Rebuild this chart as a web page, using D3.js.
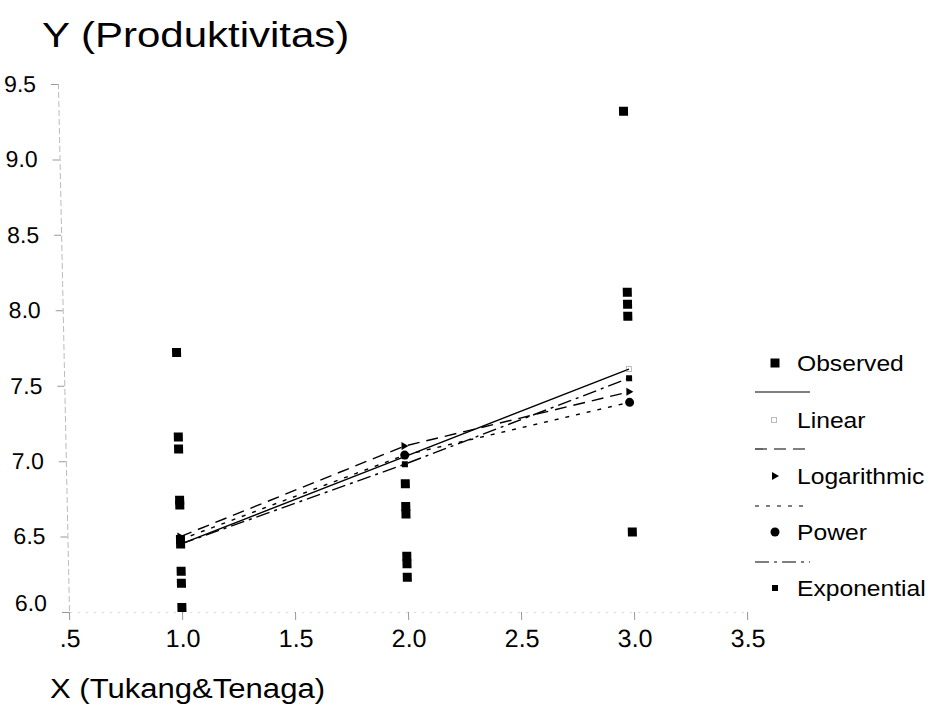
<!DOCTYPE html>
<html>
<head>
<meta charset="utf-8">
<script src="https://cdn.jsdelivr.net/npm/d3@7"></script>
<style>
  html, body { margin: 0; padding: 0; background: #fff; }
  svg { display: block; font-family: "Liberation Sans", Arial, sans-serif; }
</style>
</head>
<body>
<svg id="chart" width="931" height="727"></svg>
<script>
// data
const xTicks = [0.5, 1.0, 1.5, 2.0, 2.5, 3.0, 3.5];
const yTicks = [6.0, 6.5, 7.0, 7.5, 8.0, 8.5, 9.0, 9.5];

const observedX = [1, 1, 1, 1, 1, 1, 1, 1, 1, 1,
                   2, 2, 2, 2, 2, 2,
                   3, 3, 3, 3, 3];
const observedY = [7.72, 7.16, 7.08, 6.74, 6.71, 6.48, 6.45, 6.27, 6.19, 6.03,
                   6.85, 6.70, 6.65, 6.37, 6.32, 6.23,
                   9.32, 8.12, 8.04, 7.96, 6.53];

const fitX = [1, 2, 3];
const linearFit = [6.45, 7.03, 7.61];
const logFit = [6.50, 7.10, 7.46];
const powerFit = [6.48, 7.04, 7.39];
const expFit = [6.45, 6.98, 7.55];

const legendNames = ['Observed', 'Linear', 'Logarithmic', 'Power', 'Exponential'];

const svg = d3.select('#chart');
const x = d3.scaleLinear().domain([0.5, 3.5]).range([69, 747]);
const y = d3.scaleLinear().domain([6.0, 9.5]).range([612, 84]);

// the scan is slightly sheared, top leans left
const plot = svg.append('g').attr('transform', 'translate(0,612) skewX(1.2) translate(0,-612)');

function stretch(sel, k){
  sel.each(function(){
    const w = this.getComputedTextLength();
    d3.select(this).attr('textLength', w*k).attr('lengthAdjust', 'spacingAndGlyphs');
  });
}

// axes
const yAxis = plot.append('g').attr('transform', 'translate(' + x(0.5) + ',0)')
  .call(d3.axisLeft(y).tickValues(yTicks).tickFormat(d3.format('.1f')).tickSize(7).tickPadding(15));
const xAxis = plot.append('g').attr('transform', 'translate(0,' + y(6.0) + ')')
  .call(d3.axisBottom(x).tickValues(xTicks).tickFormat(d => d === 0.5 ? '.5' : d3.format('.1f')(d)).tickSize(8).tickPadding(9));

yAxis.select('.domain').attr('stroke', '#bbb').attr('stroke-width', 1).attr('stroke-dasharray', '6,3');
xAxis.select('.domain').attr('stroke', '#ddd').attr('stroke-width', 1).attr('stroke-dasharray', '2,6');
[yAxis, xAxis].forEach(a => {
  a.selectAll('.tick line').attr('stroke', '#999');
  a.selectAll('.tick text').attr('fill', '#000');
});
yAxis.selectAll('.tick text').attr('font-size', 23);
yAxis.selectAll('.tick text').filter(d => d === 6.0).attr('dy', '-0.05em');
xAxis.selectAll('.tick text').attr('font-size', 25);

// fit lines
const line = d3.line().x(d => x(d[0])).y(d => y(d[1]));
const fits = [
  {vals: linearFit, dash: null},
  {vals: logFit, dash: '12,7'},
  {vals: powerFit, dash: '4,7'},
  {vals: expFit, dash: '14,5,3,5'}
];
fits.forEach(f => {
  plot.append('path')
    .datum(fitX.map((v, i) => [v, f.vals[i]]))
    .attr('d', line)
    .attr('fill', 'none')
    .attr('stroke', '#000')
    .attr('stroke-width', 1.4)
    .attr('stroke-dasharray', f.dash);
});

// fit markers
function markLinear(g, cx, cy){
  g.append('rect').attr('x', cx-2.5).attr('y', cy-2.5).attr('width', 5).attr('height', 5)
    .attr('fill', 'none').attr('stroke', '#777').attr('stroke-width', 1).attr('stroke-dasharray', '1,1');
}
function markLog(g, cx, cy){
  g.append('path').attr('d', 'M' + (cx-3) + ',' + (cy-4) + 'L' + (cx+4) + ',' + cy + 'L' + (cx-3) + ',' + (cy+4) + 'Z').attr('fill', '#000');
}
function markPower(g, cx, cy){
  g.append('circle').attr('cx', cx).attr('cy', cy).attr('r', 4.5).attr('fill', '#000');
}
function markExp(g, cx, cy){
  g.append('rect').attr('x', cx-3).attr('y', cy-3).attr('width', 6).attr('height', 6).attr('fill', '#000');
}
function markObs(g, cx, cy){
  g.append('rect').attr('x', cx-4.5).attr('y', cy-4.5).attr('width', 9).attr('height', 9).attr('fill', '#000');
}

fitX.forEach((v, i) => {
  markLinear(plot, x(v), y(linearFit[i]));
  markLog(plot, x(v), y(logFit[i]));
  markPower(plot, x(v), y(powerFit[i]));
  markExp(plot, x(v), y(expFit[i]));
});

observedX.forEach((v, i) => markObs(plot, x(v), y(observedY[i])));

// legend
const leg = svg.append('g');
const legY = [363, 420, 476, 532, 588];
const legLineY = [392, 449, 506, 562];
const legDash = [null, '12,7', '4,7', '14,5,3,5'];
legLineY.forEach((ly, i) => {
  leg.append('line').attr('x1', 755).attr('x2', 810).attr('y1', ly).attr('y2', ly)
    .attr('stroke', '#000').attr('stroke-width', 1.2).attr('stroke-dasharray', legDash[i]);
});
markObs(leg, 775, legY[0]);
markLinear(leg, 774, legY[1]);
markLog(leg, 775, legY[2]);
markPower(leg, 775, legY[3]);
markExp(leg, 775, legY[4]);
leg.selectAll('text.lab').data(legendNames).enter().append('text')
  .attr('class', 'lab')
  .attr('x', 797).attr('y', (d, i) => legY[i] + 8)
  .attr('font-size', 22)
  .text(d => d)
  .call(stretch, 1.12);

// titles
svg.append('text').attr('x', 42).attr('y', 47).attr('font-size', 35).text('Y (Produktivitas)').call(stretch, 1.2);
svg.append('text').attr('x', 50).attr('y', 698).attr('font-size', 27).text('X (Tukang&Tenaga)').call(stretch, 1.15);
</script>
</body>
</html>
